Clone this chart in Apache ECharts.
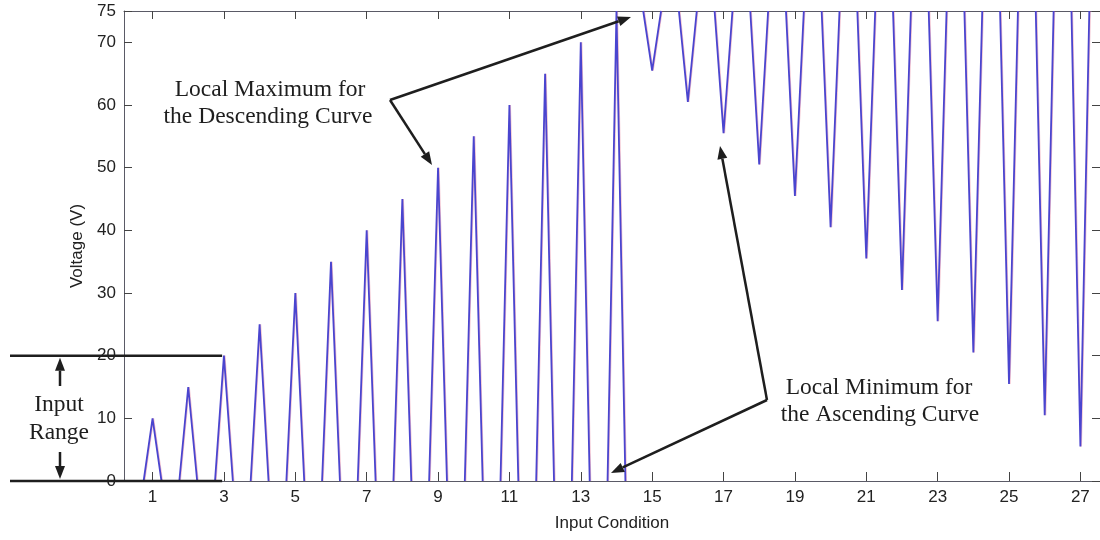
<!DOCTYPE html>
<html>
<head>
<meta charset="utf-8">
<script src="https://cdn.jsdelivr.net/npm/echarts@6/dist/echarts.min.js"></script>
<style>
  html, body { margin: 0; padding: 0; background: #fff; }
  #chart { width: 1100px; height: 540px; }
</style>
</head>
<body>
<div id="chart"></div>
<script>
// Rising pulses: input conditions 1–14 and the peak voltage each one reaches
const riseConditions = [1, 2, 3, 4, 5, 6, 7, 8, 9, 10, 11, 12, 13, 14];
const risePeaks = [10, 15, 20, 25, 30, 35, 40, 45, 50, 55, 60, 65, 70, 75];

// Falling pulses: input conditions 15–27 and the lowest voltage each dip reaches
const fallConditions = [15, 16, 17, 18, 19, 20, 21, 22, 23, 24, 25, 26, 27];
const fallDips = [65.5, 60.5, 55.5, 50.5, 45.5, 40.5, 35.5, 30.5, 25.5, 20.5, 15.5, 10.5, 5.5];

// Resting levels the pulses start from and return to
const lowLevel = 0;
const highLevel = 75;

// Axis ticks
const xTickValues = [1, 3, 5, 7, 9, 11, 13, 15, 17, 19, 21, 23, 25, 27];
const yTickValues = [0, 10, 20, 30, 40, 50, 60, 70, 75];

// Each pulse is a narrow triangle centred on its condition; '-' breaks the line between pulses
const PULSE_HALF_WIDTH = 0.25;
const waveform = [];
riseConditions.forEach((c, i) => {
  waveform.push([c - PULSE_HALF_WIDTH, lowLevel], [c, risePeaks[i]], [c + PULSE_HALF_WIDTH, lowLevel], [c + 0.5, '-']);
});
fallConditions.forEach((c, i) => {
  waveform.push([c - PULSE_HALF_WIDTH, highLevel], [c, fallDips[i]], [c + PULSE_HALF_WIDTH, highLevel], [c + 0.5, '-']);
});

const chart = echarts.init(document.getElementById('chart'), null, { renderer: 'canvas' });

const sans = 'Liberation Sans, Arial, sans-serif';
const serif = 'Liberation Serif, Times New Roman, serif';
const axisColor = '#5a5a66';
const inkColor = '#1e1e1e';
const labelColor = '#222';

const X_MIN = 0.2, X_MAX = 27.55;

chart.setOption({
  animation: false,
  backgroundColor: '#fff',
  grid: { left: 124, right: 0, top: 11, bottom: 59, containLabel: false, outerBoundsMode: 'none' },
  xAxis: [
    {
      type: 'value', min: X_MIN, max: X_MAX, position: 'bottom',
      name: 'Input Condition', nameLocation: 'middle', nameGap: 34,
      nameTextStyle: { fontFamily: sans, fontSize: 17, color: labelColor },
      axisLine: { show: true, onZero: false, lineStyle: { color: axisColor, width: 1 } },
      axisTick: { show: true, inside: true, length: 9, customValues: xTickValues, lineStyle: { color: '#444' } },
      axisLabel: { customValues: xTickValues, fontFamily: sans, fontSize: 17, color: labelColor, margin: 8 },
      splitLine: { show: false }
    },
    {
      type: 'value', min: X_MIN, max: X_MAX, position: 'top',
      axisLine: { show: true, onZero: false, lineStyle: { color: axisColor, width: 1 } },
      axisTick: { show: true, inside: true, length: 8, customValues: xTickValues, lineStyle: { color: '#444' } },
      axisLabel: { show: false },
      splitLine: { show: false }
    }
  ],
  yAxis: [
    {
      type: 'value', min: 0, max: 75, position: 'left',
      name: 'Voltage (V)', nameLocation: 'middle', nameGap: 36, nameRotate: 90,
      nameTextStyle: { fontFamily: sans, fontSize: 17, color: labelColor },
      axisLine: { show: true, onZero: false, lineStyle: { color: axisColor, width: 1 } },
      axisTick: { show: true, inside: true, length: 8, customValues: yTickValues, lineStyle: { color: '#444' } },
      axisLabel: { customValues: yTickValues, fontFamily: sans, fontSize: 17, color: labelColor, margin: 8 },
      splitLine: { show: false }
    },
    {
      type: 'value', min: 0, max: 75, position: 'right',
      axisLine: { show: true, onZero: false, lineStyle: { color: axisColor, width: 1 } },
      axisTick: { show: true, inside: true, length: 8, customValues: yTickValues, lineStyle: { color: '#444' } },
      axisLabel: { show: false },
      splitLine: { show: false }
    }
  ],
  series: [
    {
      type: 'line',
      xAxisIndex: 0, yAxisIndex: 0,
      data: waveform,
      showSymbol: false, symbol: 'none',
      connectNulls: false,
      clip: true,
      lineStyle: {
        color: '#4a45cf', width: 1.8,
        shadowColor: 'rgba(215, 70, 110, 0.35)', shadowBlur: 0, shadowOffsetX: 0.7
      },
      z: 3
    }
  ]
});

// Annotations drawn on top of the plot
function arrow(x1, y1, x2, y2) {
  const ang = Math.atan2(y2 - y1, x2 - x1);
  const len = 13, half = 5;
  const bx = x2 - len * Math.cos(ang), by = y2 - len * Math.sin(ang);
  const px = -Math.sin(ang) * half, py = Math.cos(ang) * half;
  return [
    { type: 'line', shape: { x1: x1, y1: y1, x2: bx, y2: by }, style: { stroke: inkColor, lineWidth: 2.5 }, z: 10 },
    { type: 'polygon', shape: { points: [[x2, y2], [bx + px, by + py], [bx - px, by - py]] }, style: { fill: inkColor }, z: 10 }
  ];
}
function label(text, x, y) {
  return {
    type: 'text', x: x, y: y, z: 10,
    style: { text: text, fill: inkColor, font: '23.5px ' + serif, align: 'center', verticalAlign: 'middle' }
  };
}

const yTop = chart.convertToPixel({ yAxisIndex: 0 }, 20);
const yBase = chart.convertToPixel({ yAxisIndex: 0 }, 0);
const rangeEnd = chart.convertToPixel({ xAxisIndex: 0 }, 2.95);

const graphics = [
  // Input range brackets
  { type: 'line', shape: { x1: 10, y1: yTop, x2: rangeEnd, y2: yTop }, style: { stroke: inkColor, lineWidth: 2.5 }, z: 10 },
  { type: 'line', shape: { x1: 10, y1: yBase, x2: rangeEnd, y2: yBase }, style: { stroke: inkColor, lineWidth: 2.5 }, z: 10 },
  ...arrow(60, 386, 60, yTop + 2),
  ...arrow(60, 452, 60, yBase - 2),
  label('Input', 59, 405),
  label('Range', 59, 433),
  // Descending-curve callout
  label('Local Maximum for', 270, 90),
  label('the Descending Curve', 268, 117),
  ...arrow(390, 100, 432, 165),
  ...arrow(390, 100, 631, 17),
  // Ascending-curve callout
  label('Local Minimum for', 879, 388),
  label('the Ascending Curve', 880, 415),
  ...arrow(767, 400, 720, 146),
  ...arrow(767, 400, 611, 473)
];
chart.setOption({ graphic: graphics });
</script>
</body>
</html>
